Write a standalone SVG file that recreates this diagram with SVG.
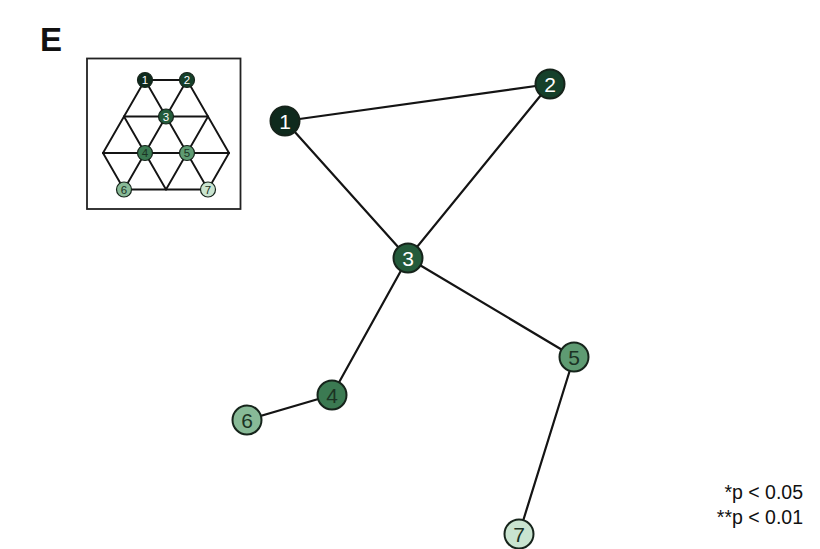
<svg xmlns="http://www.w3.org/2000/svg" width="820" height="549" viewBox="0 0 820 549">
<style>
.edge{stroke:#141414;stroke-width:2.2;fill:none;stroke-linecap:round}
.iedge{stroke:#141414;stroke-width:1.9;fill:none;stroke-linecap:round}
.node{stroke:#16241b;stroke-width:2}
.inode{stroke:#16241b;stroke-width:1.2}
.lbl{font-family:"Liberation Sans",Arial,sans-serif;font-size:21px;text-anchor:middle}
.ilbl{font-family:"Liberation Sans",Arial,sans-serif;font-size:11.5px;text-anchor:middle}
.w{fill:#ffffff}
.d{fill:#1b3324}
.c1{fill:#0f2a1d}
.c2{fill:#15402a}
.c3{fill:#245b3b}
.c4{fill:#3b7a52}
.c5{fill:#5e9b72}
.c6{fill:#88ba97}
.c7{fill:#c9e4d0}
</style>
<rect width="820" height="549" fill="#ffffff"/>
<text x="40" y="51" font-family="Liberation Sans,Arial,sans-serif" font-weight="bold" font-size="33" fill="#111">E</text>

<g id="inset">
<rect x="87" y="58.5" width="153.5" height="150.5" fill="none" stroke="#222" stroke-width="1.8"/>
<g id="inset-edges">
<line class="iedge" x1="145" y1="80" x2="187" y2="80"/>
<line class="iedge" x1="124" y1="116.5" x2="208" y2="116.5"/>
<line class="iedge" x1="103" y1="153" x2="229" y2="153"/>
<line class="iedge" x1="124" y1="189.5" x2="208" y2="189.5"/>
<line class="iedge" x1="145" y1="80" x2="103" y2="153"/>
<line class="iedge" x1="103" y1="153" x2="124" y2="189.5"/>
<line class="iedge" x1="145" y1="80" x2="208" y2="189.5"/>
<line class="iedge" x1="187" y1="80" x2="124" y2="189.5"/>
<line class="iedge" x1="187" y1="80" x2="229" y2="153"/>
<line class="iedge" x1="229" y1="153" x2="208" y2="189.5"/>
<line class="iedge" x1="124" y1="116.5" x2="166" y2="189.5"/>
<line class="iedge" x1="208" y1="116.5" x2="166" y2="189.5"/>
</g>
<g id="inset-n1"><circle class="inode c1" cx="145" cy="80" r="7.5"/><text class="ilbl w" x="145" y="84">1</text></g>
<g id="inset-n2"><circle class="inode c2" cx="187" cy="80" r="7.5"/><text class="ilbl w" x="187" y="84">2</text></g>
<g id="inset-n3"><circle class="inode c3" cx="166" cy="116.5" r="7.5"/><text class="ilbl w" x="166" y="120.5">3</text></g>
<g id="inset-n4"><circle class="inode c4" cx="145" cy="153" r="7.5"/><text class="ilbl d" x="145" y="157">4</text></g>
<g id="inset-n5"><circle class="inode c5" cx="187" cy="153" r="7.5"/><text class="ilbl d" x="187" y="157">5</text></g>
<g id="inset-n6"><circle class="inode c6" cx="124" cy="189.5" r="7.5"/><text class="ilbl d" x="124" y="193.5">6</text></g>
<g id="inset-n7"><circle class="inode c7" cx="208" cy="189.5" r="7.5"/><text class="ilbl d" x="208" y="193.5">7</text></g>
</g>

<g id="connectors">
<line class="edge" x1="285" y1="121" x2="550" y2="84"/>
<line class="edge" x1="285" y1="121" x2="408" y2="258"/>
<line class="edge" x1="550" y1="84" x2="408" y2="258"/>
<line class="edge" x1="408" y1="258" x2="332" y2="395"/>
<line class="edge" x1="408" y1="258" x2="574" y2="357"/>
<line class="edge" x1="332" y1="395" x2="247" y2="420"/>
<line class="edge" x1="574" y1="357" x2="519" y2="534"/>
</g>

<g id="node1"><circle class="node c1" cx="285" cy="121" r="14.5"/><text class="lbl w" x="285" y="128.5">1</text></g>
<g id="node2"><circle class="node c2" cx="550" cy="84" r="14.5"/><text class="lbl w" x="550" y="91.5">2</text></g>
<g id="node3"><circle class="node c3" cx="408" cy="258" r="14.5"/><text class="lbl w" x="408" y="265.5">3</text></g>
<g id="node4"><circle class="node c4" cx="332" cy="395" r="14.5"/><text class="lbl d" x="332" y="402.5">4</text></g>
<g id="node5"><circle class="node c5" cx="574" cy="357" r="14.5"/><text class="lbl d" x="574" y="364.5">5</text></g>
<g id="node6"><circle class="node c6" cx="247" cy="420" r="14.5"/><text class="lbl d" x="247" y="427.5">6</text></g>
<g id="node7"><circle class="node c7" cx="519" cy="534" r="14.5"/><text class="lbl d" x="519" y="541.5">7</text></g>

<g id="legend" font-family="Liberation Sans,Arial,sans-serif" font-size="19.5" fill="#111" text-anchor="end">
<text x="803" y="499">*p &lt; 0.05</text>
<text x="803" y="524">**p &lt; 0.01</text>
</g>
</svg>
